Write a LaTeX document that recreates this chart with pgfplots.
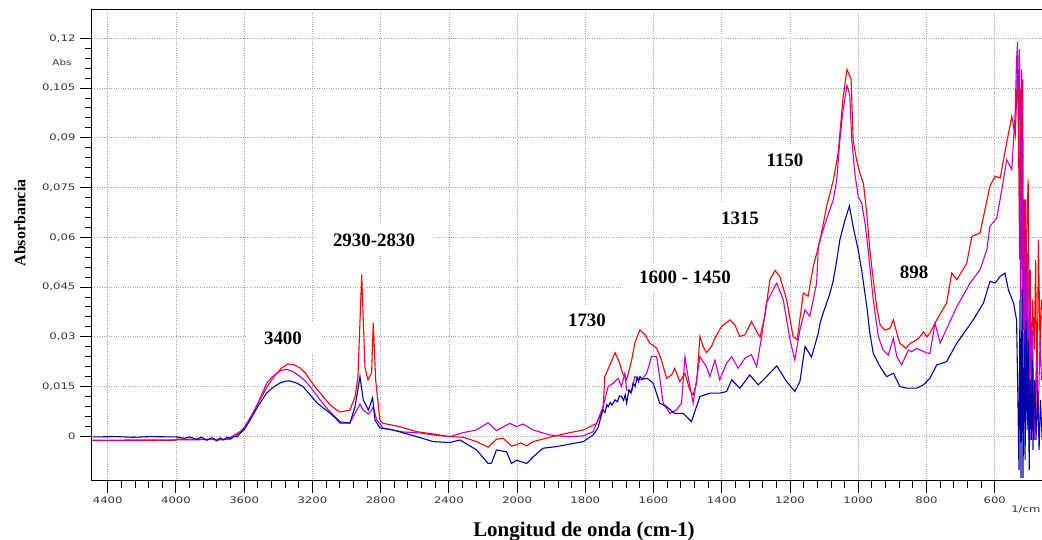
\documentclass[border=0pt]{standalone}
\usepackage{pgfplots}
\pgfplotsset{compat=1.18}
\usepackage{fontspec}
\setmainfont{DejaVu Sans}
\newfontfamily\labfont{Liberation Serif}
\definecolor{specred}{RGB}{255,0,0}
\definecolor{specmag}{RGB}{190,0,200}
\definecolor{specblue}{RGB}{0,0,170}
\tikzset{annot/.style={font=\labfont\bfseries\fontsize{19}{22}\selectfont, fill=white, inner xsep=18bp, inner ysep=9bp}}

\begin{document}
\begin{tikzpicture}[x=1bp,y=1bp]
\path[use as bounding box] (-92,-59) rectangle (950,481);
\begin{axis}[
  at={(0,0)}, anchor=south west,
  scale only axis, width=951.5bp, height=471bp,
  % wavenumber axis: half scale above 2000 1/cm, plotted as negative numbers
  x filter/.expression={x>2000 ? -(2000+(x-2000)/2) : -x},
  xmin=-3246, xmax=-457, ymin=-0.01348, ymax=0.12853,
  xtick={-3200,-3000,-2800,-2600,-2400,-2200,-2000,-1800,-1600,-1400,-1200,-1000,-800,-600},
  xticklabels={4400,4000,3600,3200,2800,2400,2000,1800,1600,1400,1200,1000,800,600},
  ytick={0,0.015,0.03,0.045,0.06,0.075,0.09,0.105,0.12},
  yticklabels={0,{0,015},{0,03},{0,045},{0,06},{0,075},{0,09},{0,105},{0,12}},
  minor x tick num=4, minor y tick num=4,
  xtick pos=left, ytick pos=left,
  tick align=outside,
  major tick length=12bp, minor tick length=7bp,
  tick style={black, line width=0.9bp},
  axis line style={black, line width=1bp},
  ticklabel style={font=\fontsize{9}{10}\selectfont, xscale=1.3, text=black!80},
  grid=major,
  major grid style={dotted, gray!70, line width=0.7bp},
]
\node[annot] at (axis description cs:0.2007,0.3036) {3400};
\node[annot] at (axis description cs:0.2964,0.5117) {2930-2830};
\node[annot] at (axis description cs:0.5202,0.3418) {1730};
\node[annot] at (axis description cs:0.6232,0.4331) {1600 - 1450};
\node[annot] at (axis description cs:0.6810,0.5584) {1315};
\node[annot] at (axis description cs:0.7283,0.6801) {1150};
\node[annot] at (axis description cs:0.8639,0.4437) {898};

\addplot[specred, line width=1.1bp] coordinates {
(4490,-0.0013) (4200,-0.0013) (4010,-0.0012) (3990,-0.0009) (3800,-0.0009) (3741,-0.0011) (3680,-0.0008)
(3624,0.0010) (3600,0.0025) (3575,0.0045) (3548,0.0070) (3520,0.0097) (3490,0.0126) (3466,0.0149)
(3440,0.0169) (3407,0.0191) (3380,0.0206) (3343,0.0218) (3310,0.0216) (3272,0.0206) (3240,0.0190)
(3214,0.0170) (3185,0.0150) (3155,0.0131) (3125,0.0112) (3097,0.0095) (3065,0.0082) (3038,0.0073)
(3009,0.0076) (2980,0.0079) (2950,0.0119) (2933,0.0179)
(2911,0.0487) (2892,0.0209) (2874,0.0170) (2853,0.0191) (2843,0.0342) (2829,0.0170) (2804,0.0049)
(2785,0.0039) (2687,0.0029) (2589,0.0014) (2492,0.0007) (2394,-0.0001) (2316,-0.0003) (2238,-0.0016)
(2170,-0.0033) (2121,-0.0009) (2082,-0.0006) (2033,-0.0029) (2004,-0.0026) (1990,-0.0020) (1972,-0.0029)
(1953,-0.0016) (1904,-0.0003) (1855,0.0009) (1806,0.0019) (1767,0.0039) (1748,0.0079) (1743,0.0180)
(1728,0.0215) (1713,0.0252) (1701,0.0225) (1689,0.0185) (1679,0.0170) (1664,0.0230) (1655,0.0281)
(1640,0.0321) (1625,0.0306) (1611,0.0281) (1591,0.0266) (1577,0.0230) (1562,0.0175) (1547,0.0185)
(1538,0.0205) (1523,0.0165) (1508,0.0190) (1494,0.0140) (1484,0.0125) (1474,0.0160) (1464,0.0301)
(1455,0.0271) (1445,0.0252) (1430,0.0271) (1420,0.0296) (1401,0.0331) (1376,0.0351) (1362,0.0336)
(1347,0.0301) (1332,0.0306) (1313,0.0346) (1298,0.0316) (1288,0.0299) (1274,0.0361) (1259,0.0472)
(1244,0.0500) (1230,0.0482) (1210,0.0412) (1191,0.0301) (1179,0.0291) (1161,0.0432) (1147,0.0422)
(1132,0.0512) (1112,0.0590) (1093,0.0692) (1073,0.0773) (1059,0.0853) (1045,0.1016) (1033,0.1106)
(1021,0.1076) (1015,0.0893) (1005,0.0833) (995,0.0793) (985,0.0763) (975,0.0672) (966,0.0561)
(956,0.0471) (946,0.0391) (936,0.0336) (922,0.0320) (907,0.0326) (897,0.0351) (887,0.0311)
(878,0.0280) (860,0.0265) (848,0.0280) (829,0.0290) (819,0.0300) (809,0.0315) (799,0.0300) (790,0.0311)
(770,0.0351) (741,0.0402) (726,0.0492) (711,0.0472) (682,0.0522)
(667,0.0603) (643,0.0613) (614,0.0754) (599,0.0784) (584,0.0779) (565,0.0885) (550,0.0965) (540,0.0905)
(536,0.1016) (533,0.1137) (530,0.0868) (527,0.0533) (524,0.1046) (521,0.0503) (518,0.1076) (515,0.0321)
(512,0.0714) (509,0.0110) (506,0.0623) (502,0.0774) (499,0.0351) (496,0.0502) (493,0.0170) (489,0.0412)
(484,0.0261) (480,0.0532) (476,0.0049) (472,0.0593) (467,0.0261) (463,0.0412)
};

\addplot[specmag, line width=1.1bp] coordinates {
(4490,-0.0012) (4200,-0.0011) (4000,-0.0011) (3800,-0.0010) (3700,-0.0009) (3624,0.0014) (3600,0.0026)
(3548,0.0070) (3520,0.0100) (3466,0.0161) (3440,0.0177) (3407,0.0191) (3380,0.0199) (3350,0.0202)
(3310,0.0194) (3272,0.0180) (3240,0.0166) (3214,0.0150) (3185,0.0130) (3155,0.0110) (3125,0.0091)
(3097,0.0074) (3065,0.0058)
(3038,0.0044) (2980,0.0040) (2940,0.0079) (2921,0.0097) (2902,0.0079) (2872,0.0067) (2853,0.0079)
(2843,0.0089) (2823,0.0049) (2785,0.0025) (2669,0.0013) (2570,0.0010) (2492,0.0004) (2394,-0.0001)
(2316,0.0011) (2238,0.0019) (2170,0.0041) (2121,0.0017) (2043,0.0039) (2004,0.0029) (1982,0.0037)
(1953,0.0019) (1904,0.0004) (1855,-0.0001) (1806,0.0001) (1777,0.0014) (1748,0.0089) (1733,0.0150)
(1718,0.0160) (1704,0.0175) (1694,0.0150) (1684,0.0190) (1679,0.0140) (1664,0.0135) (1655,0.0180)
(1635,0.0170) (1620,0.0190) (1606,0.0240) (1591,0.0240) (1582,0.0180) (1572,0.0100) (1552,0.0069)
(1533,0.0079) (1518,0.0100) (1508,0.0240) (1499,0.0180) (1484,0.0100) (1464,0.0240) (1445,0.0210)
(1435,0.0180) (1420,0.0230) (1406,0.0170) (1386,0.0220) (1371,0.0240) (1352,0.0205) (1332,0.0236)
(1313,0.0246) (1298,0.0210) (1283,0.0301) (1269,0.0402) (1239,0.0462) (1220,0.0412) (1200,0.0291)
(1186,0.0230) (1171,0.0321) (1156,0.0381) (1142,0.0361) (1122,0.0462) (1117,0.0573) (1112,0.0593)
(1093,0.0654) (1073,0.0714) (1063,0.0773) (1054,0.0893) (1045,0.0980) (1033,0.1058) (1025,0.1030)
(1019,0.0893) (1010,0.0793) (1000,0.0722) (990,0.0703) (980,0.0642) (971,0.0561) (956,0.0411)
(941,0.0300) (927,0.0260) (912,0.0245) (897,0.0295) (887,0.0240) (873,0.0215) (853,0.0260)
(843,0.0255) (829,0.0265) (799,0.0251) (790,0.0250) (775,0.0341) (760,0.0281)
(711,0.0391) (672,0.0462) (643,0.0502) (623,0.0563) (614,0.0633) (594,0.0658) (579,0.0744)
(565,0.0834) (550,0.0804) (540,0.0975)
(536,0.1137) (533,0.1188) (530,0.0955) (527,0.1167) (524,0.0412) (521,0.1106) (518,0.0321) (515,0.0653)
(512,0.0049) (509,0.0714) (506,0.0080) (503,0.0563) (500,-0.0011) (497,0.0412) (493,0.0080) (489,0.0321)
(484,-0.0011) (478,0.0231) (473,0.0049) (467,0.0291) (463,0.0170)
};

\addplot[specblue, line width=1.1bp] coordinates {
(4490,-0.0002) (4350,-0.0001) (4250,-0.0003) (4150,-0.0001) (4000,-0.0002) (3950,-0.0006) (3920,-0.0002)
(3880,-0.0009) (3850,-0.0003) (3820,-0.0012) (3790,-0.0004) (3760,-0.0014) (3740,-0.0005) (3720,-0.0011)
(3700,-0.0003) (3680,-0.0008) (3660,0.0000) (3640,-0.0002) (3624,0.0009) (3600,0.0020) (3565,0.0049)
(3520,0.0090) (3467,0.0131) (3430,0.0148) (3389,0.0161) (3360,0.0166) (3331,0.0167) (3290,0.0160)
(3255,0.0150) (3215,0.0126) (3174,0.0101) (3135,0.0085) (3097,0.0070) (3065,0.0055) (3038,0.0040)
(2980,0.0040) (2950,0.0089) (2921,0.0180) (2902,0.0110) (2872,0.0079) (2847,0.0116) (2833,0.0049)
(2804,0.0025) (2728,0.0019) (2589,-0.0001) (2492,-0.0016) (2394,-0.0019) (2335,-0.0011) (2238,-0.0041)
(2170,-0.0082) (2150,-0.0081) (2121,-0.0041) (2062,-0.0047) (2033,-0.0082) (2004,-0.0072) (1972,-0.0082)
(1953,-0.0062) (1924,-0.0036) (1884,-0.0031) (1806,-0.0016) (1777,0.0004) (1763,0.0025) (1749,0.0079)
(1742,0.0072) (1737,0.0095) (1733,0.0089) (1727,0.0102) (1722,0.0094) (1713,0.0110) (1706,0.0104)
(1700,0.0122) (1694,0.0120) (1688,0.0108) (1683,0.0125) (1679,0.0100) (1672,0.0140) (1666,0.0130)
(1660,0.0160) (1654,0.0150) (1648,0.0178) (1644,0.0165) (1640,0.0180) (1632,0.0172) (1620,0.0175)
(1610,0.0168) (1601,0.0160) (1582,0.0100) (1562,0.0089) (1538,0.0069) (1513,0.0069) (1489,0.0044) (1464,0.0120)
(1435,0.0130) (1406,0.0130) (1386,0.0135) (1371,0.0170) (1347,0.0145) (1318,0.0185) (1293,0.0155)
(1269,0.0180) (1239,0.0212) (1210,0.0165) (1186,0.0135) (1171,0.0165) (1156,0.0271) (1137,0.0239)
(1117,0.0311) (1112,0.0341) (1103,0.0371) (1083,0.0431) (1073,0.0471) (1063,0.0531) (1054,0.0592)
(1039,0.0652) (1026,0.0694) (1015,0.0632) (1000,0.0561) (990,0.0501) (975,0.0391) (966,0.0311)
(956,0.0250) (936,0.0210) (917,0.0180) (897,0.0190) (878,0.0150) (858,0.0145) (829,0.0145)
(809,0.0155) (790,0.0175) (770,0.0215) (741,0.0225)
(711,0.0281) (663,0.0351) (633,0.0402) (614,0.0467) (599,0.0462) (584,0.0482) (570,0.0492)
(560,0.0442) (545,0.0402) (536,0.0351)
(532,0.0110) (529,-0.0102) (526,0.0412) (523,-0.0126) (520,0.0442) (517,-0.0126) (514,0.0321) (511,-0.0072)
(508,0.0351) (505,0.0019) (502,0.0291) (499,-0.0102) (496,0.0170) (493,-0.0011) (490,0.0231) (488,-0.0041)
(483,0.0170) (479,-0.0011) (474,0.0140) (470,-0.0041) (466,0.0110) (461,-0.0011)
};
\end{axis}
\node[font=\labfont\bfseries\fontsize{21}{24}\selectfont, anchor=base] at (492,-55.7) {Longitud de onda (cm-1)};
\node[font=\labfont\bfseries\fontsize{16}{19}\selectfont, rotate=90] at (-72,258) {Absorbancia};
\node[font=\fontsize{8}{10}\selectfont, xscale=1.3, text=black!80] at (-30,418) {Abs};
\node[font=\fontsize{9}{10}\selectfont, xscale=1.3, text=black!80, anchor=base west, inner sep=0pt] at (919,-32) {1/cm};
\end{tikzpicture}
\end{document}
